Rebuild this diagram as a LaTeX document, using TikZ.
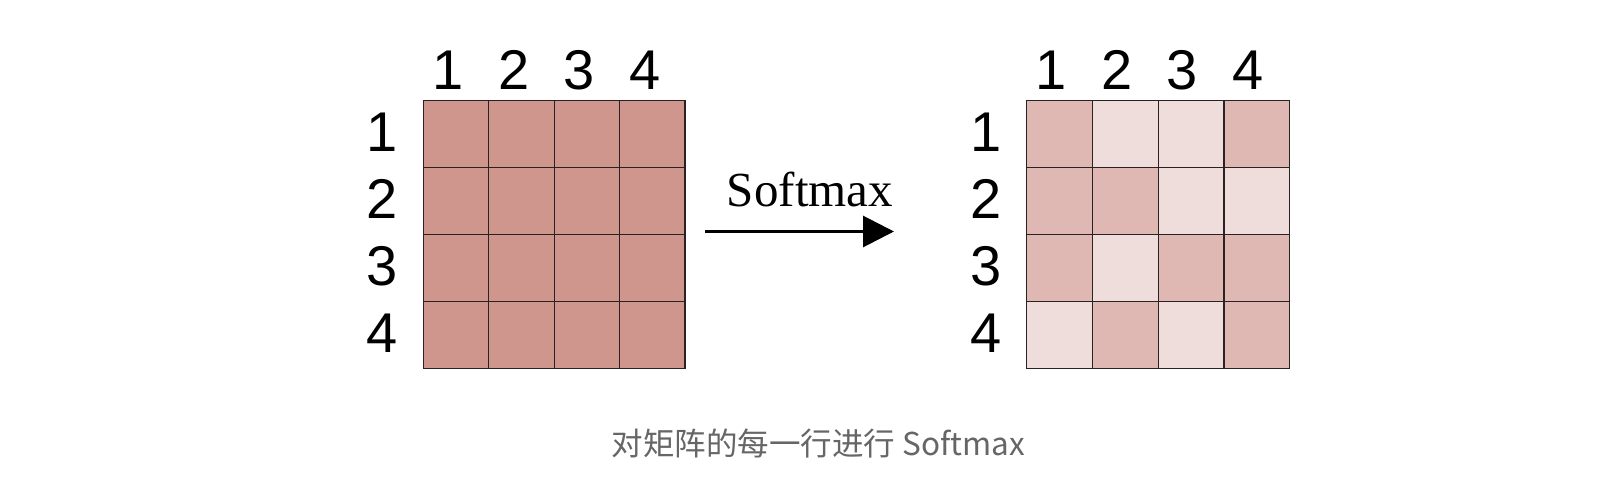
\documentclass[tikz,border=0pt]{standalone}
\usepackage{fontspec}
\setmainfont{Liberation Sans}
\newfontfamily\cjk{Noto Sans CJK SC}
\newfontfamily\tms{Liberation Serif}
\usetikzlibrary{arrows.meta}
\definecolor{cdark}{HTML}{CF968E}
\definecolor{cmid}{HTML}{DFB8B4}
\definecolor{clight}{HTML}{EFDDDB}
\definecolor{gridline}{HTML}{2A2222}
\definecolor{captiongray}{HTML}{666666}
\tikzset{
  cell/.style={draw=gridline, line width=1.3pt, inner sep=0pt, anchor=north west},
  idx/.style={font=\fontsize{56}{56}\selectfont, inner sep=0pt, anchor=base},
  flow/.style={line width=3pt, -{Triangle[length=31pt,width=31pt]}},
}
\begin{document}
\begin{tikzpicture}[x=1pt,y=-1pt]
\useasboundingbox[fill=white] (0,0) rectangle (1612,494);
% left matrix
\foreach \k in {1,...,16}{
  \pgfmathtruncatemacro{\r}{int((\k-1)/4)}
  \pgfmathtruncatemacro{\c}{mod(\k-1,4)}
  \node[cell, fill=cdark, minimum width=65.4pt, minimum height=67pt]
    (L\k) at ({422.7+\c*65.4},{100+\r*67}) {};
}
% right matrix
\foreach \col [count=\k] in {cmid,clight,clight,cmid, cmid,cmid,clight,clight, cmid,clight,cmid,cmid, clight,cmid,clight,cmid}{
  \pgfmathtruncatemacro{\r}{int((\k-1)/4)}
  \pgfmathtruncatemacro{\c}{mod(\k-1,4)}
  \node[cell, fill=\col, minimum width=65.75pt, minimum height=67pt]
    (R\k) at ({1026+\c*65.75},{100+\r*67}) {};
}
% column labels
\foreach \j in {1,...,4}{
  \node[idx] (LC\j) at ({422.7+(\j-0.5)*65.4-7},90) {\j};
  \node[idx] (RC\j) at ({1026+(\j-0.5)*65.75-8},90) {\j};
}
% row labels
\foreach \i in {1,...,4}{
  \node[idx] (LR\i) at (382,{100+(\i-0.5)*67+18}) {\i};
  \node[idx] (RR\i) at (986,{100+(\i-0.5)*67+18}) {\i};
}
% arrow
\coordinate (arrS) at (705,231.5);
\coordinate (arrE) at (894,231.5);
\draw[flow] (arrS) -- (arrE);
\node[anchor=base, inner sep=0pt, font=\tms\fontsize{49}{49}\selectfont] (smx) at (810,207) {Softmax};
% caption
\node[inner sep=0pt, text=captiongray, font=\cjk\fontsize{31.5}{31.5}\selectfont] (cap) at (818.5,443) {对矩阵的每一行进行 Softmax};
\end{tikzpicture}
\end{document}
